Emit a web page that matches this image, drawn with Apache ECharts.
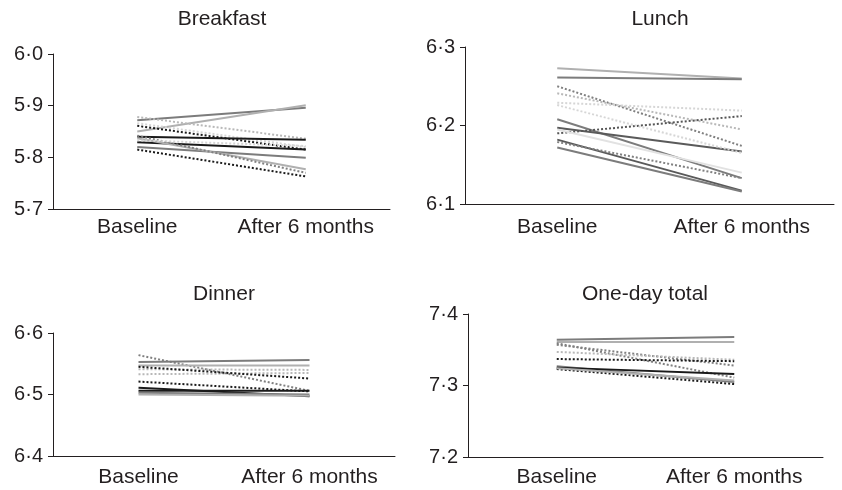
<!DOCTYPE html>
<html>
<head>
<meta charset="utf-8">
<script src="https://cdn.jsdelivr.net/npm/echarts@6/dist/echarts.min.js"></script>
<style>
  html, body { margin: 0; padding: 0; background: #ffffff; }
  #chart { width: 842px; height: 490px; }
</style>
</head>
<body>
<div id="chart"></div>
<script>
// categories
const periods = ["Baseline", "After 6 months"];

// panel titles + y ranges
const panelTitles = ["Breakfast", "Lunch", "Dinner", "One-day total"];
const yMins = [5.7, 6.1, 6.4, 7.2];
const yMaxs = [6.0, 6.3, 6.6, 7.4];

// values: [baseline, after 6 months]
const breakfastBaseline = [5.872, 5.850, 5.878, 5.861, 5.866, 5.840, 5.829, 5.820, 5.837, 5.842, 5.815, 5.833];
const breakfastAfter    = [5.896, 5.901, 5.836, 5.815, 5.820, 5.834, 5.815, 5.799, 5.777, 5.770, 5.763, 5.822];
const lunchBaseline = [6.273, 6.261, 6.250, 6.241, 6.229, 6.208, 6.197, 6.190, 6.182, 6.179, 6.172, 6.226, 6.195];
const lunchAfter    = [6.260, 6.259, 6.174, 6.195, 6.219, 6.133, 6.167, 6.212, 6.117, 6.133, 6.116, 6.165, 6.140];
const dinnerBaseline = [6.564, 6.553, 6.547, 6.541, 6.533, 6.545, 6.521, 6.511, 6.506, 6.503, 6.500];
const dinnerAfter    = [6.506, 6.556, 6.547, 6.540, 6.535, 6.526, 6.505, 6.497, 6.506, 6.500, 6.498];
const totalBaseline = [7.364, 7.361, 7.359, 7.357, 7.347, 7.337, 7.327, 7.325, 7.323, 7.324];
const totalAfter    = [7.368, 7.361, 7.311, 7.328, 7.336, 7.334, 7.305, 7.316, 7.302, 7.307];

// line look for each line (separate from data)
const breakfastLooks = ["gray", "light", "dotLight", "dotBlack", "dotFaint", "black", "black", "gray", "light", "dotGray", "dotBlack", "dotFaint"];
const lunchLooks = ["light", "gray", "dotGray", "dotLight", "dotFaint", "gray", "dark", "dotDark", "dark", "dotGray", "gray", "dotFaint", "faint"];
const dinnerLooks = ["dotGray", "gray", "light", "dotLight", "dotLight", "dotBlack", "dotBlack", "black", "black", "gray", "light"];
const totalLooks = ["gray", "light", "dotGray", "dotGray", "dotLight", "dotBlack", "gray", "black", "dotBlack", "light"];

const looks = {
  black:    { color: "#1a1a1a", type: "solid" },
  dark:     { color: "#5a5a5a", type: "solid" },
  gray:     { color: "#7c7c7c", type: "solid" },
  light:    { color: "#b0b0b0", type: "solid" },
  faint:    { color: "#e2e2e2", type: "solid" },
  dotBlack: { color: "#1a1a1a", type: [2, 2] },
  dotDark:  { color: "#555555", type: [2, 2] },
  dotGray:  { color: "#808080", type: [2, 2] },
  dotLight: { color: "#b8b8b8", type: [2, 2] },
  dotFaint: { color: "#d6d6d6", type: [2, 2] }
};

const panels = [
  { base: breakfastBaseline, after: breakfastAfter, look: breakfastLooks },
  { base: lunchBaseline, after: lunchAfter, look: lunchLooks },
  { base: dinnerBaseline, after: dinnerAfter, look: dinnerLooks },
  { base: totalBaseline, after: totalAfter, look: totalLooks }
];

// layout of each panel
const grids = [
  { left: 53, right: 452, top: 54, bottom: 281 },
  { left: 465, right: 8, top: 47, bottom: 286 },
  { left: 53, right: 447, top: 333, bottom: 34 },
  { left: 468, right: 19, top: 314, bottom: 33 }
];
const xLabelMargins = [8, 13, 11, 10];
const titlePos = [
  { left: 222, top: 9 },
  { left: 660, top: 9 },
  { left: 224, top: 284 },
  { left: 645, top: 284 }
];

const font = "'Liberation Sans', Arial, sans-serif";

var chart = echarts.init(document.getElementById("chart"));

var series = [];
panels.forEach((p, gi) => {
  p.base.forEach((b, i) => {
    const lk = looks[p.look[i]];
    series.push({
      type: "line",
      xAxisIndex: gi,
      yAxisIndex: gi,
      symbol: "none",
      silent: true,
      data: [b, p.after[i]],
      lineStyle: { color: lk.color, type: lk.type, width: 2 }
    });
  });
});

chart.setOption({
  animation: false,
  textStyle: { fontFamily: font },
  title: panelTitles.map((t, i) => ({
    text: t,
    left: titlePos[i].left,
    top: titlePos[i].top,
    textAlign: "center",
    padding: 0,
    textStyle: { fontSize: 21, fontWeight: "normal", color: "#231f20", fontFamily: font }
  })),
  grid: grids.map(g => Object.assign({ outerBoundsMode: "none" }, g)),
  xAxis: grids.map((g, i) => ({
    type: "category",
    gridIndex: i,
    data: periods,
    boundaryGap: true,
    axisLine: { lineStyle: { color: "#231f20", width: 1 } },
    axisTick: { inside: true, length: 4, lineStyle: { color: "#231f20" } },
    axisLabel: { interval: 0, margin: xLabelMargins[i], fontSize: 21, color: "#231f20", fontFamily: font },
    splitLine: { show: false }
  })),
  yAxis: grids.map((g, i) => ({
    type: "value",
    gridIndex: i,
    min: yMins[i],
    max: yMaxs[i],
    interval: 0.1,
    axisLine: { show: true, lineStyle: { color: "#231f20", width: 1 } },
    axisTick: { show: true, length: 5, lineStyle: { color: "#231f20" } },
    axisLabel: {
      margin: 10,
      fontSize: 20,
      color: "#231f20",
      fontFamily: font,
      formatter: v => v.toFixed(1).replace(".", "\u00b7")
    },
    splitLine: { show: false }
  })),
  series: series
});
</script>
</body>
</html>
